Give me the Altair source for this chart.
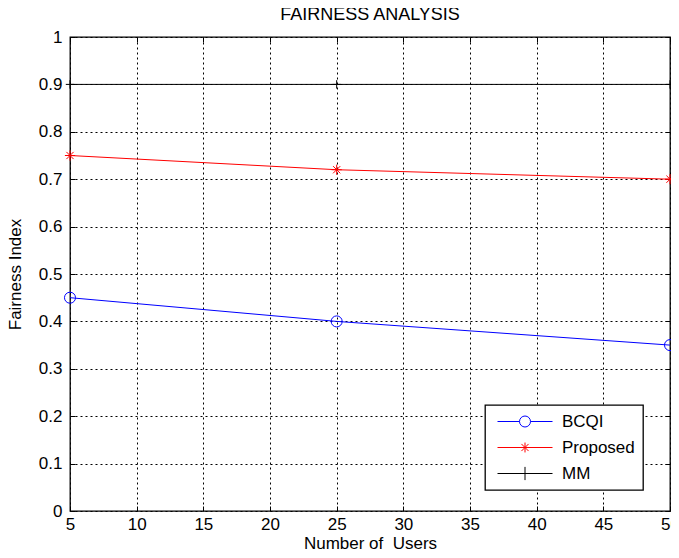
import altair as alt
import pandas as pd

users = [5, 25, 50]
bcqi = [0.45, 0.40, 0.35]
proposed = [0.75, 0.72, 0.70]
mm = [0.90, 0.90, 0.90]
series_names = ["BCQI", "Proposed", "MM"]
series_colors = ["#0000FF", "#FF0000", "#000000"]
x_ticks = [5, 10, 15, 20, 25, 30, 35, 40, 45, 50]
y_ticks = [0, 0.1, 0.2, 0.3, 0.4, 0.5, 0.6, 0.7, 0.8, 0.9, 1.0]

rows = []
for name, vals in zip(series_names, [bcqi, proposed, mm]):
    for u, v in zip(users, vals):
        rows.append({"users": u, "value": v, "series": name})
df = pd.DataFrame(rows)

FONT = "Liberation Sans"

# marker shapes (unit square paths)
marker_paths = [
    "M-0.92,0A0.92,0.92,0,1,1,0.92,0A0.92,0.92,0,1,1,-0.92,0Z",
    "M-0.85,0L0.85,0M0,-0.85L0,0.85M-0.6,-0.6L0.6,0.6M-0.6,0.6L0.6,-0.6",
    "M-0.7,0L0.7,0M0,-0.7L0,0.7",
]
# legend symbols: line with marker in the middle
legend_paths = [
    "M-1,0L-0.2,0A0.2,0.2,0,1,1,0.2,0A0.2,0.2,0,1,1,-0.2,0M0.2,0L1,0",
    "M-1,0L1,0M0,-0.18L0,0.18M-0.13,-0.13L0.13,0.13M-0.13,0.13L0.13,-0.13",
    "M-1,0L1,0M0,-0.24L0,0.24",
]

x_scale = alt.Scale(domain=[5, 50], nice=False, zero=False)
y_scale = alt.Scale(domain=[0, 1], nice=False)

x_enc = alt.X(
    "users:Q",
    scale=x_scale,
    axis=alt.Axis(
        values=x_ticks, title="Number of\u00a0 Users", grid=True, ticks=False,
        labelPadding=5, labelFontSize=17, labelFont=FONT, labelColor="black",
        titleFontSize=17, titleFont=FONT, titleFontWeight="normal", titleColor="black",
        titleBaseline="alphabetic", titleY=37,
        domain=False, gridColor="black", gridDash=[2, 3], gridOpacity=1, gridWidth=1,
        labelFlush=False,
    ),
)
y_enc = alt.Y(
    "value:Q",
    scale=y_scale,
    axis=alt.Axis(
        values=y_ticks, title="Fairness Index", grid=True, ticks=False, format=".1~f",
        labelPadding=8, labelFontSize=17, labelFont=FONT, labelColor="black",
        titleFontSize=17, titleFont=FONT, titleFontWeight="normal", titleColor="black",
        titlePadding=14,
        domain=False, gridColor="black", gridDash=[2, 3], gridOpacity=1, gridWidth=1,
    ),
)


def tick_axis(orient, values):
    # inward tick marks (MATLAB style): axis moved inside, ticks pointing to frame
    return alt.Axis(
        orient=orient, values=values, title=None, labels=False, grid=False,
        domain=False, ticks=True, tickSize=5, tickColor="black", tickWidth=1,
        offset=-5,
    )


color_scale = alt.Scale(domain=series_names, range=series_colors)

lines = alt.Chart(df).mark_line(strokeWidth=1).encode(
    x=x_enc, y=y_enc,
    color=alt.Color("series:N", scale=color_scale, legend=None),
    detail="series:N",
)

points = alt.Chart(df).mark_point(filled=False, size=144, strokeWidth=1, opacity=1).encode(
    x=alt.X("users:Q", scale=x_scale, axis=tick_axis("bottom", x_ticks)),
    y=alt.Y("value:Q", scale=y_scale, axis=tick_axis("left", y_ticks)),
    color=alt.Color("series:N", scale=color_scale, legend=None),
    shape=alt.Shape("series:N", scale=alt.Scale(domain=series_names, range=marker_paths), legend=None),
)


def make_legend():
    return alt.Legend(
        title=None, orient="none", legendX=415, legendY=368,
        fillColor="white", strokeColor="black", padding=8,
        symbolSize=3025, symbolStrokeWidth=1, symbolOpacity=1, symbolOffset=4,
        labelFontSize=17, labelFont=FONT, labelColor="black", labelOffset=9,
        rowPadding=8, labelLimit=300, clipHeight=17,
    )


legend_layer = alt.Chart(df).mark_point(filled=False, opacity=0).encode(
    x=alt.X("users:Q", scale=x_scale, axis=tick_axis("top", x_ticks)),
    y=alt.Y("value:Q", scale=y_scale, axis=tick_axis("right", y_ticks)),
    stroke=alt.Stroke(
        "series:N",
        scale=alt.Scale(domain=series_names, range=series_colors),
        legend=make_legend(),
    ),
    shape=alt.Shape(
        "series:N",
        scale=alt.Scale(domain=series_names, range=legend_paths),
        legend=make_legend(),
    ),
)

chart = (
    alt.layer(lines, points, legend_layer)
    .resolve_scale(shape="independent", stroke="independent")
    .resolve_axis(x="independent", y="independent")
    .properties(
        width=600, height=474,
        title=alt.TitleParams(
            "FAIRNESS ANALYSIS", fontSize=18, font=FONT, fontWeight="normal",
            color="black", anchor="middle", offset=4,
        ),
        autosize=alt.AutoSizeParams(type="none"),
        padding={"left": 62, "top": 29, "right": 1, "bottom": 39},
        background="white",
    )
    .configure_view(stroke="black", strokeWidth=1.3)
    .configure_legend(strokeWidth=1.3)
)

chart.save("out.html", embed_options={"renderer": "svg", "actions": False})
